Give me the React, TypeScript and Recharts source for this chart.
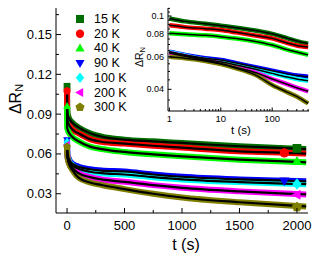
import { ComposedChart, Line, Scatter, XAxis, YAxis } from "recharts";

// time points (s) and relaxation values
const times = [0, 1, 2, 5, 10, 20, 50, 100, 200, 300, 500, 750, 1000, 1500, 2000, 2080];
const k15 = [0.111, 0.097, 0.0935, 0.0908, 0.0886, 0.0864, 0.0832, 0.08, 0.0756, 0.0731, 0.0708, 0.0695, 0.0683, 0.0658, 0.064, 0.0637];
const k20 = [0.1075, 0.089, 0.087, 0.0853, 0.0839, 0.0815, 0.0782, 0.0756, 0.0712, 0.0692, 0.0678, 0.0662, 0.0648, 0.062, 0.0606, 0.0603];
const k40 = [0.096, 0.0805, 0.0795, 0.0785, 0.0772, 0.0755, 0.0725, 0.0696, 0.0655, 0.0637, 0.0615, 0.0597, 0.0582, 0.0557, 0.054, 0.0537];
const k90 = [0.0705, 0.064, 0.0615, 0.059, 0.0577, 0.0555, 0.0525, 0.0504, 0.0485, 0.0475, 0.0468, 0.0445, 0.0428, 0.0408, 0.0396, 0.0394];
const k100 = [0.069, 0.0635, 0.061, 0.058, 0.0564, 0.0542, 0.0512, 0.0488, 0.0466, 0.0455, 0.0445, 0.0425, 0.0408, 0.0388, 0.0374, 0.0372];
const k200 = [0.067, 0.063, 0.0605, 0.0575, 0.0553, 0.0525, 0.049, 0.0455, 0.0425, 0.0408, 0.039, 0.0365, 0.0345, 0.0318, 0.0298, 0.0295];
const k300 = [0.0655, 0.06, 0.059, 0.057, 0.0548, 0.052, 0.0475, 0.0422, 0.0385, 0.0366, 0.0335, 0.03, 0.0272, 0.0236, 0.0208, 0.0204];

const labels = ["15 K", "20 K", "40 K", "90 K", "100 K", "200 K", "300 K"];
const colors = ["#006f00", "#ff0000", "#00ff00", "#0000ff", "#00ffff", "#ff00ff", "#808000"];
const shapes = ["square", "circle", "triangle", "down", "diamond", "left", "pentagon"];
// big symbols near the end of each curve
const endTimes = [2000, 1890, 2000, 1890, 2000, 2000, 2000];
const endValues = [0.0642, 0.0608, 0.0545, 0.0396, 0.0374, 0.0293, 0.02];

const mainYTicks = [0.03, 0.045, 0.06, 0.075, 0.09, 0.105, 0.12, 0.135, 0.15, 0.165];
const mainYLabels = [0.03, 0.06, 0.09, 0.12, 0.15];
const mainXTicks = [0, 250, 500, 750, 1000, 1250, 1500, 1750, 2000];
const mainXLabels = [0, 500, 1000, 1500, 2000];

const insetXTicks = [1, 2, 3, 4, 5, 6, 7, 8, 9, 10, 20, 30, 40, 50, 60, 70, 80, 90, 100, 200, 300, 400, 500];
const insetXLabels = [1, 10, 100];
const insetYTicks = [0.035, 0.04, 0.045, 0.05, 0.055, 0.06, 0.065, 0.07, 0.075, 0.08, 0.085, 0.09, 0.095, 0.1, 0.105, 0.11];
const insetYLabels = [0.04, 0.06, 0.08, 0.1];

const series = [k15, k20, k40, k90, k100, k200, k300];
const keys = ["k15", "k20", "k40", "k90", "k100", "k200", "k300"];

const rows = times.map((t, i) => {
  const r: Record<string, number> = { t };
  keys.forEach((k, j) => (r[k] = series[j][i]));
  return r;
});
const insetRows = rows.filter((r) => r.t >= 1 && r.t <= 500);

const FONT = "'Liberation Sans', Arial, sans-serif";

function Marker({ kind, cx, cy, r, fill }: any) {
  if (cx == null || cy == null) return null;
  switch (kind) {
    case "square":
      return <rect x={cx - r} y={cy - r} width={2 * r} height={2 * r} fill={fill} />;
    case "circle":
      return <circle cx={cx} cy={cy} r={r * 1.05} fill={fill} />;
    case "triangle":
      return <polygon points={`${cx},${cy - r * 1.2} ${cx + r * 1.15},${cy + r * 0.8} ${cx - r * 1.15},${cy + r * 0.8}`} fill={fill} />;
    case "down":
      return <polygon points={`${cx},${cy + r * 1.2} ${cx + r * 1.15},${cy - r * 0.8} ${cx - r * 1.15},${cy - r * 0.8}`} fill={fill} />;
    case "diamond":
      return <polygon points={`${cx},${cy - r * 1.3} ${cx + r * 1.05},${cy} ${cx},${cy + r * 1.3} ${cx - r * 1.05},${cy}`} fill={fill} />;
    case "left":
      return <polygon points={`${cx - r * 1.2},${cy} ${cx + r * 0.8},${cy - r * 1.15} ${cx + r * 0.8},${cy + r * 1.15}`} fill={fill} />;
    default: {
      const pts = [0, 1, 2, 3, 4]
        .map((k) => {
          const a = ((-90 + k * 72) * Math.PI) / 180;
          return `${cx + r * 1.2 * Math.cos(a)},${cy + r * 1.2 * Math.sin(a)}`;
        })
        .join(" ");
      return <polygon points={pts} fill={fill} />;
    }
  }
}

function LeftTick({ x, y, payload, labelsAt, fmt, fontSize, major, minor }: any) {
  const isMajor = labelsAt.some((v: number) => Math.abs(v - payload.value) < 1e-9);
  return (
    <g>
      <line x1={x} y1={y} x2={x + (isMajor ? major : minor)} y2={y} stroke="#000" />
      {isMajor && (
        <text x={x - 4} y={y} textAnchor="end" dominantBaseline="central" fontSize={fontSize} fontFamily={FONT} fill="#000">
          {fmt(payload.value)}
        </text>
      )}
    </g>
  );
}

function BottomTick({ x, y, payload, labelsAt, fontSize, dy, major, minor }: any) {
  const isMajor = labelsAt.some((v: number) => Math.abs(v - payload.value) < 1e-9);
  return (
    <g>
      <line x1={x} y1={y} x2={x} y2={y - (isMajor ? major : minor)} stroke="#000" />
      {isMajor && (
        <text x={x} y={y + dy} textAnchor="middle" dominantBaseline="central" fontSize={fontSize} fontFamily={FONT} fill="#000">
          {payload.value}
        </text>
      )}
    </g>
  );
}

function MainChart() {
  return (
    <ComposedChart width={314} height={253} data={rows} margin={{ top: 8, right: 6, left: 6, bottom: 0 }}>
      <XAxis
        dataKey="t"
        type="number"
        domain={[-96, 2096]}
        allowDataOverflow
        ticks={mainXTicks}
        interval={0}
        height={40}
        tickSize={0}
        tickMargin={0}
        tickLine={false}
        axisLine={{ stroke: "#000" }}
        tick={(p: any) => <BottomTick {...p} labelsAt={mainXLabels} fontSize={13} dy={12} major={5} minor={3} />}
      />
      <XAxis xAxisId="top" orientation="top" type="number" domain={[-96, 2096]} height={0} tick={false} tickLine={false} axisLine={{ stroke: "#000" }} />
      <YAxis
        type="number"
        domain={[0.0155, 0.17]}
        allowDataOverflow
        ticks={mainYTicks}
        interval={0}
        width={50}
        tickSize={0}
        tickMargin={0}
        tickLine={false}
        axisLine={{ stroke: "#000" }}
        tick={(p: any) => <LeftTick {...p} labelsAt={mainYLabels} fmt={(v: number) => v.toFixed(2)} fontSize={13} major={5} minor={3} />}
      />
      <YAxis yAxisId="right" orientation="right" type="number" domain={[0.0155, 0.17]} width={0} tick={false} tickLine={false} axisLine={{ stroke: "#000" }} />
      {keys.map((k, i) => (
        <Line key={"d" + k} dataKey={k} type="monotone" stroke={colors[i]} strokeWidth={6} dot={false} isAnimationActive={false} />
      ))}
      {keys.map((k) => (
        <Line key={"f" + k} dataKey={k} type="monotone" stroke="#000" strokeWidth={2.2} dot={false} isAnimationActive={false} />
      ))}
      {keys.map((k, i) => (
        <Scatter
          key={"m" + k}
          data={[
            { t: 0, v: series[i][0], r: 3.4 },
            { t: endTimes[i], v: endValues[i], r: 4.4 },
          ]}
          dataKey="v"
          isAnimationActive={false}
          shape={(p: any) => <Marker kind={shapes[i]} cx={p.cx} cy={p.cy} r={p.payload.r} fill={colors[i]} />}
        />
      ))}
    </ComposedChart>
  );
}

function InsetChart() {
  return (
    <ComposedChart width={194} height={140} data={insetRows} margin={{ top: 8, right: 5, left: 0, bottom: 0 }}>
      <XAxis
        dataKey="t"
        type="number"
        scale="log"
        domain={[0.94, 520]}
        allowDataOverflow
        ticks={insetXTicks}
        interval={0}
        height={29}
        tickSize={0}
        tickMargin={0}
        tickLine={false}
        axisLine={{ stroke: "#000" }}
        tick={(p: any) => <BottomTick {...p} labelsAt={insetXLabels} fontSize={9.5} dy={7} major={3.5} minor={2} />}
      />
      <XAxis xAxisId="top" orientation="top" type="number" domain={[0.94, 520]} height={0} tick={false} tickLine={false} axisLine={{ stroke: "#000" }} />
      <YAxis
        type="number"
        scale="log"
        domain={[0.0305, 0.1105]}
        allowDataOverflow
        ticks={insetYTicks}
        interval={0}
        width={48}
        tickSize={0}
        tickMargin={0}
        tickLine={false}
        axisLine={{ stroke: "#000" }}
        tick={(p: any) => (
          <LeftTick {...p} labelsAt={insetYLabels} fmt={(v: number) => (v === 0.1 ? "0.1" : v.toFixed(2))} fontSize={9} major={3.5} minor={2} />
        )}
      />
      <YAxis yAxisId="right" orientation="right" type="number" domain={[0.0305, 0.1105]} width={0} tick={false} tickLine={false} axisLine={{ stroke: "#000" }} />
      {keys.map((k, i) => (
        <Line key={"d" + k} dataKey={k} type="monotone" stroke={colors[i]} strokeWidth={4.5} dot={false} isAnimationActive={false} />
      ))}
      {keys.map((k) => (
        <Line key={"f" + k} dataKey={k} type="monotone" stroke="#000" strokeWidth={1.5} dot={false} isAnimationActive={false} />
      ))}
    </ComposedChart>
  );
}

export default function App() {
  return (
    <div style={{ position: "absolute", left: 0, top: 0, width: 314, height: 253, background: "#fff", fontFamily: FONT }}>
      <div style={{ position: "absolute", left: 0, top: 0 }}>
        <MainChart />
      </div>
      <div style={{ position: "absolute", left: 120, top: 0 }}>
        <InsetChart />
      </div>
      <svg width={314} height={253} style={{ position: "absolute", left: 0, top: 0, pointerEvents: "none" }}>
        <text x={15} y={99} transform="rotate(-90 15 99)" textAnchor="middle" dominantBaseline="central" fontSize={16} fontFamily={FONT}>
          ΔR<tspan fontSize={11} dy={4}>N</tspan>
        </text>
        <text x={186} y={244} textAnchor="middle" dominantBaseline="central" fontSize={16} fontFamily={FONT}>
          t (s)
        </text>
        <text x={139} y={57} transform="rotate(-90 139 57)" textAnchor="middle" dominantBaseline="central" fontSize={10.5} fontFamily={FONT}>
          ΔR<tspan fontSize={7.5} dy={3}>N</tspan>
        </text>
        <text x={241} y={130} textAnchor="middle" dominantBaseline="central" fontSize={11.5} fontFamily={FONT}>
          t (s)
        </text>
        {labels.map((l, i) => {
          const y = 19 + i * 14.7;
          return (
            <g key={l}>
              <Marker kind={shapes[i]} cx={80} cy={y} r={4} fill={colors[i]} />
              <text x={94} y={y} dominantBaseline="central" fontSize={12.5} fontFamily={FONT}>
                {l}
              </text>
            </g>
          );
        })}
      </svg>
    </div>
  );
}
